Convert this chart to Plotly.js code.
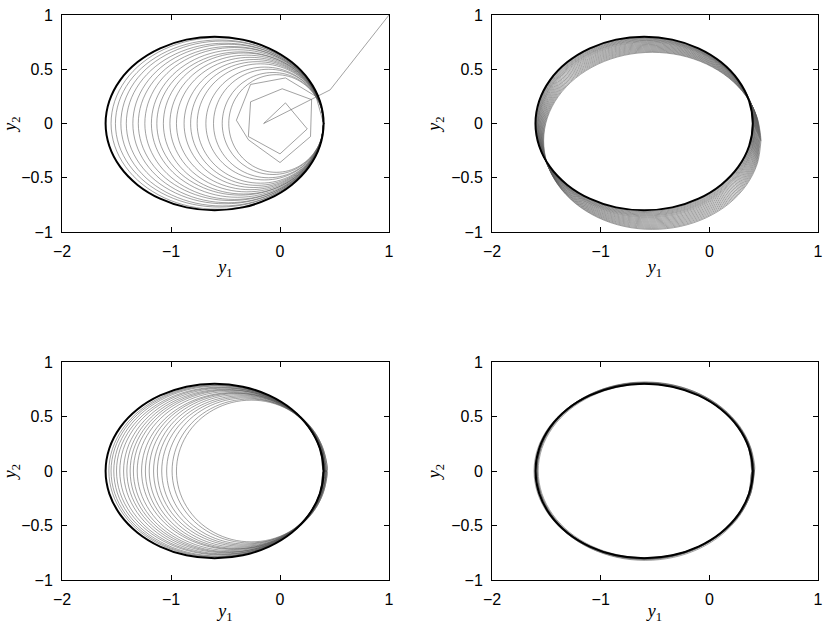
<!DOCTYPE html>
<html>
<head>
<meta charset="utf-8">
<script src="https://cdn.plot.ly/plotly-3.0.1.min.js"></script>
<style>html,body{margin:0;padding:0;background:#fff;}#chart{width:830px;height:624px;}</style>
</head>
<body>
<div id="chart"></div>
<script>
// Limit cycle (thick ellipse), clockwise from the right-most point
const ellX = [0.400, 0.366, 0.266, 0.107, -0.100, -0.341, -0.600, -0.859, -1.100, -1.307, -1.466, -1.566, -1.600,
              -1.566, -1.466, -1.307, -1.100, -0.859, -0.600, -0.341, -0.100, 0.107, 0.266, 0.366, 0.400];
const ellY = [0.000, -0.207, -0.400, -0.566, -0.693, -0.773, -0.800, -0.773, -0.693, -0.566, -0.400, -0.207, 0.000,
              0.207, 0.400, 0.566, 0.693, 0.773, 0.800, 0.773, 0.693, 0.566, 0.400, 0.207, 0.000];

// Panel 1: start-up transient (polygonal)
const p1StartX = [1.00, 0.46, -0.15, 0.05, 0.25, 0.00, -0.29, -0.27, 0.02, 0.29, 0.28, 0.00, -0.29, -0.40, -0.27, 0.05, 0.33, 0.40];
const p1StartY = [1.00, 0.31, 0.00, 0.19, -0.05, -0.28, -0.12, 0.20, 0.32, 0.22, -0.12, -0.36, -0.15, 0.03, 0.36, 0.42, 0.25, 0.00];
// Panel 1: successive loops (left extent, top height), all touching the right point
const p1Left = [-0.47, -0.53, -0.61, -0.68, -0.76, -0.82, -0.88, -0.95, -1.01, -1.07, -1.13, -1.18, -1.24, -1.30, -1.35, -1.41, -1.46, -1.51, -1.55];
const p1Top  = [0.45, 0.47, 0.50, 0.52, 0.55, 0.57, 0.59, 0.61, 0.63, 0.65, 0.66, 0.68, 0.70, 0.71, 0.73, 0.74, 0.76, 0.77, 0.79];

// Panel 2: loops shifted down-right, converging onto the ellipse
const p2Dx = [0.075, 0.071, 0.067, 0.063, 0.059, 0.055, 0.051, 0.047, 0.043, 0.039, 0.035, 0.031, 0.027, 0.023, 0.020, 0.016, 0.012, 0.009, 0.005, 0.002];
const p2Dy = [-0.160, -0.152, -0.143, -0.134, -0.125, -0.116, -0.107, -0.098, -0.089, -0.080, -0.071, -0.062, -0.054, -0.046, -0.039, -0.032, -0.025, -0.018, -0.011, -0.005];
const p2Sy = [1.020, 1.019, 1.018, 1.017, 1.016, 1.015, 1.014, 1.013, 1.012, 1.011, 1.010, 1.009, 1.008, 1.007, 1.006, 1.005, 1.004, 1.003, 1.002, 1.001];

// Panel 3: loops growing from the inside (left extent, top height, right extent)
const p3Left  = [-0.95, -0.99, -1.04, -1.085, -1.125, -1.16, -1.20, -1.235, -1.27, -1.31, -1.345, -1.375, -1.405, -1.435, -1.47, -1.50, -1.525, -1.55, -1.57];
const p3Top   = [0.65, 0.66, 0.67, 0.68, 0.69, 0.70, 0.71, 0.715, 0.72, 0.73, 0.74, 0.745, 0.75, 0.76, 0.765, 0.77, 0.78, 0.785, 0.79];
const p3Right = [0.42, 0.43, 0.41, 0.42, 0.43, 0.41, 0.42, 0.40, 0.42, 0.41, 0.42, 0.41, 0.40, 0.41, 0.40, 0.41, 0.40, 0.40, 0.40];

// Panel 4: loops staying close to the ellipse
const p4Dx = [0.010, 0.015, 0.005, -0.005, 0.010, 0.000, 0.015, 0.005, 0.010, 0.000];
const p4Dy = [0.000, 0.005, -0.005, 0.000, 0.005, -0.005, 0.000, 0.005, -0.008, 0.004];
const p4Sx = [1.005, 1.000, 0.990, 1.008, 0.995, 1.000, 0.990, 1.005, 1.000, 0.995];
const p4Sy = [1.000, 1.010, 1.005, 1.000, 1.015, 1.010, 0.995, 1.005, 1.015, 1.010];

const xTicks = [-2, -1, 0, 1];
const yTicks = [-1, -0.5, 0, 0.5, 1];

const ellRight = 0.4, ellLeft = -1.6, ellTop = 0.8, ellCx = -0.6;

function anchoredLoops(lefts, tops, rights) {
  const x = [], y = [];
  for (let k = 0; k < lefts.length; k++) {
    const r = rights ? rights[k] : ellRight;
    const sx = (r - lefts[k]) / (ellRight - ellLeft);
    const sy = tops[k] / ellTop;
    for (let i = 0; i < ellX.length; i++) {
      x.push(r + sx * (ellX[i] - ellRight));
      y.push(sy * ellY[i]);
    }
  }
  return {x, y};
}
function shiftedLoops(dx, dy, sx, sy) {
  const x = [], y = [];
  for (let k = 0; k < dx.length; k++) {
    const kx = sx ? sx[k] : 1, ky = sy ? sy[k] : 1;
    for (let i = 0; i < ellX.length; i++) {
      x.push(ellCx + dx[k] + kx * (ellX[i] - ellCx));
      y.push(dy[k] + ky * ellY[i]);
    }
  }
  return {x, y};
}

const thin = {color: '#555', width: 0.55};
const thick = {color: '#000', width: 2};

function traces(ax, loops, extra) {
  const xa = 'x' + (ax === 1 ? '' : ax), ya = 'y' + (ax === 1 ? '' : ax);
  const out = [];
  if (extra) out.push({x: extra.x, y: extra.y, xaxis: xa, yaxis: ya, mode: 'lines', line: thin, hoverinfo: 'skip'});
  out.push({x: loops.x, y: loops.y, xaxis: xa, yaxis: ya, mode: 'lines', line: Object.assign({shape: 'spline', smoothing: 1}, thin), hoverinfo: 'skip'});
  out.push({x: ellX, y: ellY, xaxis: xa, yaxis: ya, mode: 'lines', line: Object.assign({shape: 'spline', smoothing: 1}, thick), hoverinfo: 'skip'});
  return out;
}

const data = [].concat(
  traces(1, anchoredLoops(p1Left, p1Top), {x: p1StartX, y: p1StartY}),
  traces(2, shiftedLoops(p2Dx, p2Dy, null, p2Sy)),
  traces(3, anchoredLoops(p3Left, p3Top, p3Right)),
  traces(4, shiftedLoops(p4Dx, p4Dy, p4Sx, p4Sy))
);

const W = 830, H = 624;
const colDom = [[62 / W, 389 / W], [492 / W, 818 / W]];
const rowDom = [[1 - 232 / H, 1 - 15 / H], [1 - 580 / H, 1 - 362 / H]];

const tickFont = {family: 'Liberation Sans, Arial, sans-serif', size: 16, color: '#000'};
const titleFont = {family: 'Liberation Serif, serif', size: 18, color: '#000'};

function xAxis(dom, anchor) {
  return {
    domain: dom, anchor: anchor, range: [-2, 1], tickvals: xTicks,
    showgrid: false, zeroline: false, showline: true, mirror: 'ticks',
    linecolor: '#000', linewidth: 1, ticks: 'inside', ticklen: 5, tickcolor: '#000',
    tickfont: tickFont, ticklabelstandoff: 5,
    title: {text: '<i>y</i><sub>1</sub>', font: titleFont, standoff: 1},
    fixedrange: true
  };
}
function yAxis(dom, anchor) {
  return {
    domain: dom, anchor: anchor, range: [-1, 1], tickvals: yTicks,
    showgrid: false, zeroline: false, showline: true, mirror: 'ticks',
    linecolor: '#000', linewidth: 1, ticks: 'inside', ticklen: 5, tickcolor: '#000',
    tickfont: tickFont, ticklabelstandoff: 5,
    title: {text: '<i>y</i><sub>2</sub>', font: titleFont, standoff: 5},
    fixedrange: true
  };
}

const layout = {
  width: W, height: H, showlegend: false,
  paper_bgcolor: '#fff', plot_bgcolor: '#fff',
  margin: {l: 0, r: 0, t: 0, b: 0},
  xaxis: xAxis(colDom[0], 'y'), yaxis: yAxis(rowDom[0], 'x'),
  xaxis2: xAxis(colDom[1], 'y2'), yaxis2: yAxis(rowDom[0], 'x2'),
  xaxis3: xAxis(colDom[0], 'y3'), yaxis3: yAxis(rowDom[1], 'x3'),
  xaxis4: xAxis(colDom[1], 'y4'), yaxis4: yAxis(rowDom[1], 'x4')
};

Plotly.newPlot('chart', data, layout, {staticPlot: true, displayModeBar: false});
</script>
</body>
</html>
